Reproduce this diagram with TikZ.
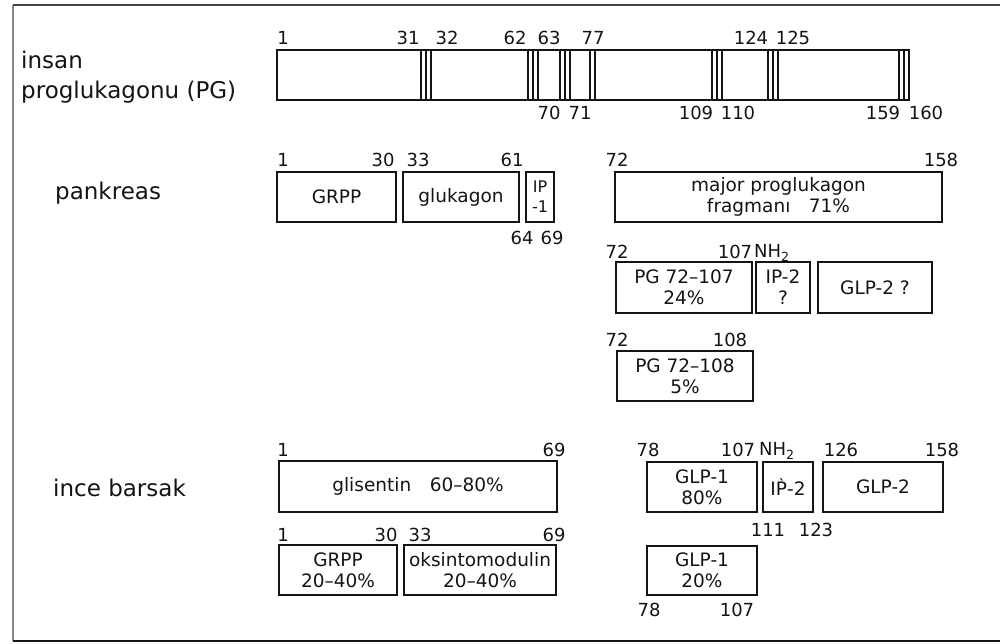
\documentclass[tikz,border=0pt]{standalone}
\usepackage{fontspec}
\setmainfont{DejaVu Sans}
\usetikzlibrary{positioning}
\definecolor{scanblack}{RGB}{20,20,20}
\definecolor{framegray}{RGB}{135,135,135}

\begin{document}
\begin{tikzpicture}[x=1pt, y=-1pt,
    seg/.style={draw=scanblack, line width=1.8pt, inner sep=0pt, minimum height=50pt, align=center, text=scanblack, font=\fontsize{18.5}{21}\selectfont},
    bar/.style={draw=scanblack, line width=1.8pt},
    cut/.style={draw=scanblack, line width=1.3pt},
    num/.style={inner sep=0pt, text=scanblack, font=\fontsize{18}{20}\selectfont},
    tissue/.style={inner sep=0pt, anchor=west, align=left, text=scanblack, font=\fontsize{23}{30}\selectfont}
]
\useasboundingbox (0,0) rectangle (1000,644);
% frame of the scan
\draw[framegray, line width=2.2pt] (13,5) -- (13,641);
\draw[scanblack!80, line width=1.3pt] (13,5) -- (1000,5);
\draw[scanblack, line width=2.5pt] (13,641) -- (1000,641);

% tissue labels
\node[tissue] (human) at (21,77) {insan\\proglukagonu (PG)};
\node[tissue] (pancreas) at (55,193) {pankreas};
\node[tissue] (intestine) at (53,488) {ince barsak};

% proglucagon bar
\draw[bar] (277,50) rectangle (909,100);
\foreach \s in {421,528,560,712,768,899} {
  \draw[cut] (\s,50) -- (\s,100);
  \draw[cut] (\s+5,50) -- (\s+5,100);
  \draw[cut] (\s+10,50) -- (\s+10,100);
}
\draw[cut] (590,50) -- (590,100);
\draw[cut] (595,50) -- (595,100);
\foreach \x/\t in {283/1,408/31,447/32,515/62,549/63,593/77,751/124,793/125}
  \node[num] (pgtop\t) at (\x,38) {\t};
\foreach \x/\t in {549/70,580/71,696/109,738/110,883/159,926/160}
  \node[num] (pgbot\t) at (\x,113) {\t};

% pankreas
\node[seg, minimum width=119pt] (grppA) at (336.5,197) {GRPP};
\node[seg, minimum width=116pt] (glucagon) at (461,197) {glukagon};
\node[seg, minimum width=28pt, font=\fontsize{16}{20}\selectfont] (ipA) at (540,197) {IP\\-1};
\node[seg, minimum width=327pt] (major) at (778.5,197) {major proglukagon\\fragmanı\quad 71\%};
\foreach \x/\t in {283/1,383/30,418/33,512/61,617/72,941/158}
  \node[num] (panc\t) at (\x,160) {\t};
\node[num] (panc64) at (522,238) {64};
\node[num] (panc69) at (552,238) {69};

\node[seg, minimum width=136pt, minimum height=51pt] (pgshort) at (684,287.5) {PG 72--107\\24\%};
\node[seg, minimum width=54pt, minimum height=51pt] (ipB) at (783,287.5) {IP-2\\?};
\node[seg, minimum width=114pt, minimum height=51pt] (glpq) at (875,287.5) {GLP-2 ?};
\node[num] (pancB72) at (617,252) {72};
\node[num] (pancB107) at (735,252) {107};
\node[num, anchor=west] (pancNH) at (754,253) {NH\textsubscript{2}};

\node[seg, minimum width=136pt] (pglong) at (685,376) {PG 72--108\\5\%};
\node[num] (pancC72) at (617,340) {72};
\node[num] (pancC108) at (730,340) {108};

% ince barsak
\node[seg, minimum width=278pt, minimum height=51pt] (glicentin) at (418,486.5) {glisentin\quad 60--80\%};
\node[num] (int1) at (283,450) {1};
\node[num] (int69) at (554,450) {69};

\node[seg, minimum width=118pt] (grppB) at (338,570) {GRPP\\20--40\%};
\node[seg, minimum width=152pt] (oxm) at (480,570) {oksintomodulin\\20--40\%};
\foreach \x/\t in {283/1,386/30,420/33,554/69}
  \node[num] (intB\t) at (\x,535) {\t};

\node[seg, minimum width=110pt] (glpA) at (702,487) {GLP-1\\80\%};
\node[seg, minimum width=50pt] (ipC) at (788,487) {I\`{P}-2};
\node[seg, minimum width=120pt] (glpB) at (883,487) {GLP-2};
\node[num] (int78) at (648,450) {78};
\node[num] (int107) at (738,450) {107};
\node[num, anchor=west] (intNH) at (759,451) {NH\textsubscript{2}};
\node[num] (int126) at (841,450) {126};
\node[num] (int158) at (942,450) {158};
\node[num] (int111) at (768,530) {111};
\node[num] (int123) at (816,530) {123};

\node[seg, minimum width=110pt, minimum height=49pt] (glpC) at (702,570.5) {GLP-1\\20\%};
\node[num] (intC78) at (649,610) {78};
\node[num] (intC107) at (737,610) {107};
\end{tikzpicture}
\end{document}
